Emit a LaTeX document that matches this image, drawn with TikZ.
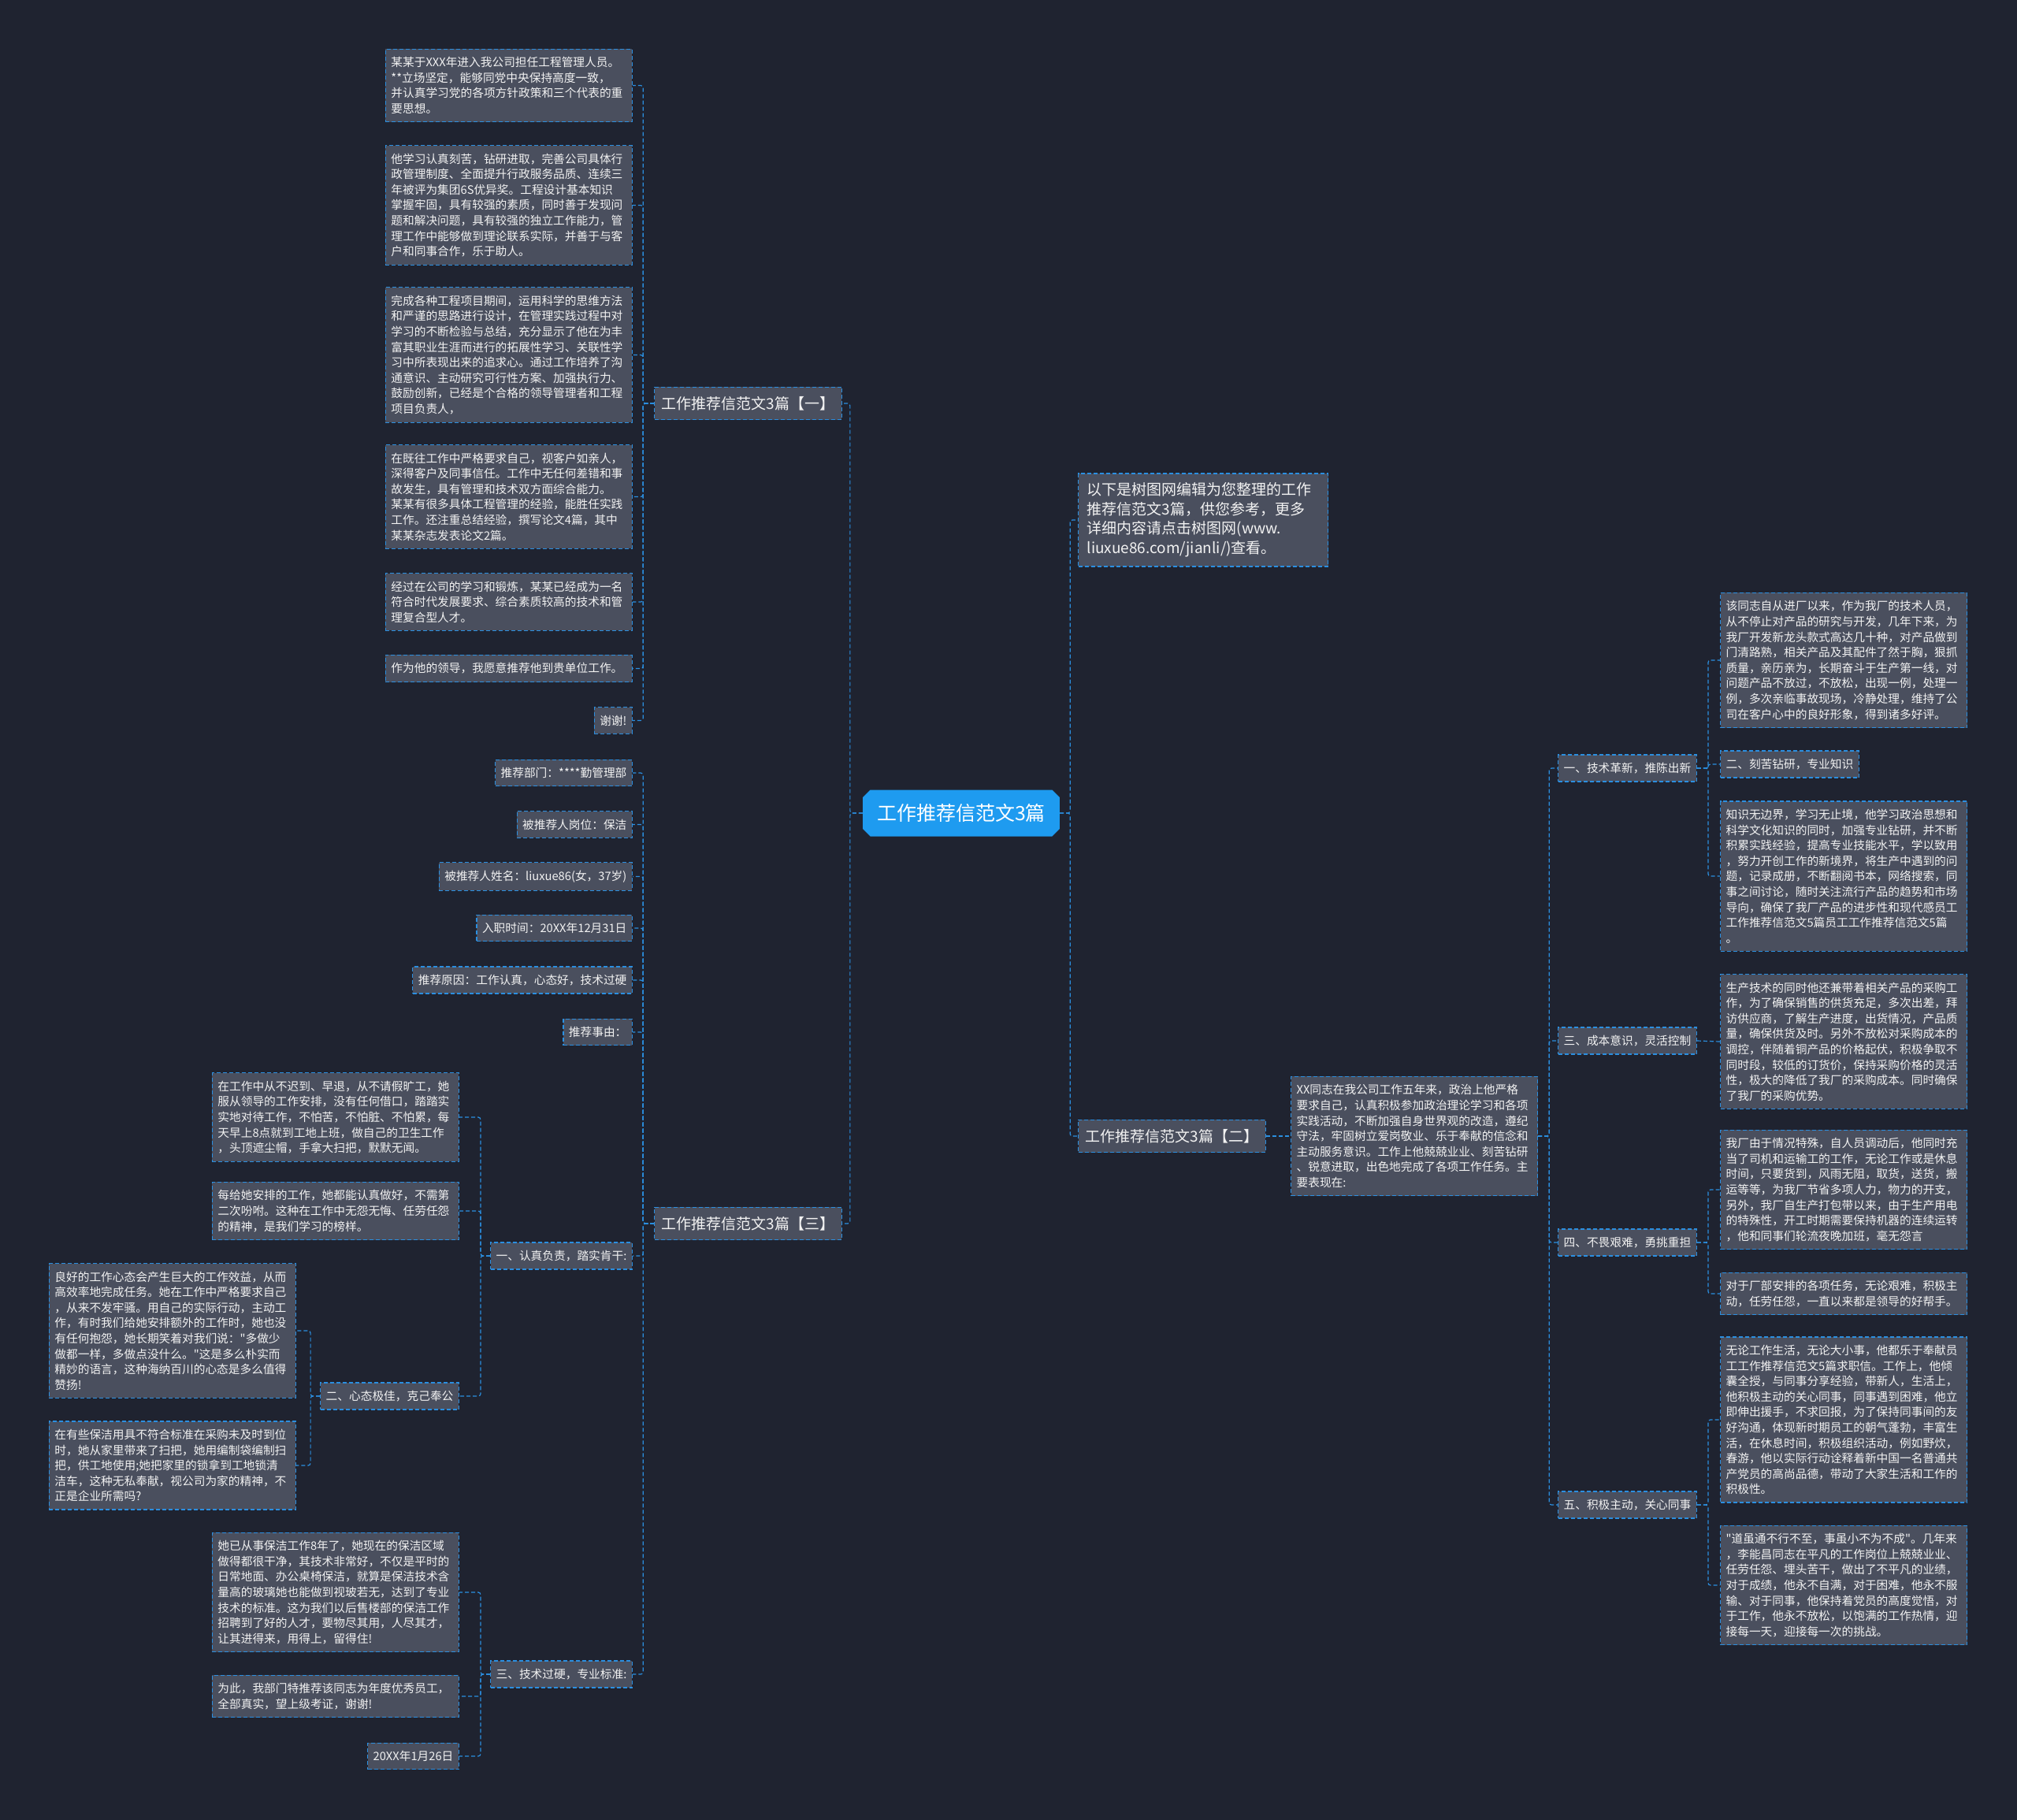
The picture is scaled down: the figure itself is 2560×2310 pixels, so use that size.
\documentclass[tikz,border=0pt]{standalone}
\usepackage{fontspec}
\setmainfont{Noto Sans CJK SC}[Ligatures=TeXOff]
\usetikzlibrary{shapes.misc}

\definecolor{bgnavy}{HTML}{1F2330}
\definecolor{boxgray}{HTML}{4A4F5E}
\definecolor{linkblue}{HTML}{2B8FE0}
\definecolor{hubblue}{HTML}{1E9BF0}
\definecolor{txtwhite}{HTML}{F2F2F2}
\newcommand\leaffont{\fontsize{14.7pt}{19.6pt}\selectfont}
\newcommand\topicfont{\fontsize{19pt}{24.5pt}\selectfont}
\newcommand\hubfont{\fontsize{25pt}{30pt}\selectfont}

\begin{document}
\begin{tikzpicture}[
  x=1pt, y=-1pt,
  box/.style={draw=linkblue, line width=1.2pt, dash pattern=on 5pt off 3pt,
              fill=boxgray, text=txtwhite, font=\leaffont, align=left,
              inner xsep=7pt, inner ysep=10pt},
  para/.style={box, text width=299pt},
  topic/.style={box, font=\topicfont, inner xsep=9pt, inner ysep=12pt},
  note/.style={topic, text width=295pt, inner xsep=11pt},
  hub/.style={chamfered rectangle, chamfered rectangle xsep=6pt, fill=hubblue,
              text=white, font=\hubfont, minimum height=59pt, inner xsep=12pt},
  link/.style={draw=linkblue, line width=1.2pt, dash pattern=on 5pt off 3pt,
               rounded corners=3pt},
  L/.style={anchor=east}, R/.style={anchor=west}
]
\fill[bgnavy] (0,0) rectangle (2560,2310);
\useasboundingbox (0,0) rectangle (2560,2310);

% centre and first level
\node[hub] (hub) at (1220,1032) {工作推荐信范文3篇};
\node[topic,L] (p1) at (1069,512) {工作推荐信范文3篇【一】};
\node[topic,L] (p3) at (1069,1553) {工作推荐信范文3篇【三】};
\node[note,R] (intro) at (1368,660) {以下是树图网编辑为您整理的工作\\推荐信范文3篇，供您参考，更多\\详细内容请点击树图网(www.\\liuxue86.com/jianli/)查看。};
\node[topic,R] (p2) at (1368,1442) {工作推荐信范文3篇【二】};

% part one
\node[para,L] (a1) at (803,108.5) {某某于XXX年进入我公司担任工程管理人员。\\***立场坚定，能够同党中央保持高度一致，\\并认真学习党的各项方针政策和三个代表的重\\要思想。};
\node[para,L] (a2) at (803,260.5) {他学习认真刻苦，钻研进取，完善公司具体行\\政管理制度、全面提升行政服务品质、连续三\\年被评为集团6S优异奖。工程设计基本知识\\掌握牢固，具有较强的素质，同时善于发现问\\题和解决问题，具有较强的独立工作能力，管\\理工作中能够做到理论联系实际，并善于与客\\户和同事合作，乐于助人。};
\node[para,L] (a3) at (803,450.5) {完成各种工程项目期间，运用科学的思维方法\\和严谨的思路进行设计，在管理实践过程中对\\学习的不断检验与总结，充分显示了他在为丰\\富其职业生涯而进行的拓展性学习、关联性学\\习中所表现出来的追求心。通过工作培养了沟\\通意识、主动研究可行性方案、加强执行力、\\鼓励创新，已经是个合格的领导管理者和工程\\项目负责人，};
\node[para,L] (a4) at (803,630.5) {在既往工作中严格要求自己，视客户如亲人，\\深得客户及同事信任。工作中无任何差错和事\\故发生，具有管理和技术双方面综合能力。\\某某有很多具体工程管理的经验，能胜任实践\\工作。还注重总结经验，撰写论文4篇，其中\\某某杂志发表论文2篇。};
\node[para,L] (a5) at (803,764) {经过在公司的学习和锻炼，某某已经成为一名\\符合时代发展要求、综合素质较高的技术和管\\理复合型人才。};
\node[para,L] (a6) at (803,848.5) {作为他的领导，我愿意推荐他到贵单位工作。};
\node[box,L] (a7) at (803,914.5) {谢谢!};

% part three
\node[box,L] (c1) at (803,981) {推荐部门：****勤管理部};
\node[box,L] (c2) at (803,1046.5) {被推荐人岗位：保洁};
\node[box,L] (c3) at (803,1112.5) {被推荐人姓名：liuxue86(女，37岁)};
\node[box,L] (c4) at (803,1178) {入职时间：20XX年12月31日};
\node[box,L] (c5) at (803,1244) {推荐原因：工作认真，心态好，技术过硬};
\node[box,L] (c6) at (803,1310) {推荐事由：};
\node[box,L] (c7) at (803,1594) {一、认真负责，踏实肯干:};
\node[box,L] (c8) at (803,2125) {三、技术过硬，专业标准:};
\node[para,L] (d1) at (583,1418) {在工作中从不迟到、早退，从不请假旷工，她\\服从领导的工作安排，没有任何借口，踏踏实\\实地对待工作，不怕苦，不怕脏、不怕累，每\\天早上8点就到工地上班，做自己的卫生工作\\，头顶遮尘帽，手拿大扫把，默默无闻。};
\node[para,L] (d2) at (583,1537) {每给她安排的工作，她都能认真做好，不需第\\二次吩咐。这种在工作中无怨无悔、任劳任怨\\的精神，是我们学习的榜样。};
\node[box,L] (d3) at (583,1772) {二、心态极佳，克己奉公};
\node[para,L] (e1) at (376,1689) {良好的工作心态会产生巨大的工作效益，从而\\高效率地完成任务。她在工作中严格要求自己\\，从来不发牢骚。用自己的实际行动，主动工\\作，有时我们给她安排额外的工作时，她也没\\有任何抱怨，她长期笑着对我们说："多做少\\做都一样，多做点没什么。"这是多么朴实而\\精妙的语言，这种海纳百川的心态是多么值得\\赞扬!};
\node[para,L] (e2) at (376,1860) {在有些保洁用具不符合标准在采购未及时到位\\时，她从家里带来了扫把，她用编制袋编制扫\\把，供工地使用;她把家里的锁拿到工地锁清\\洁车，这种无私奉献，视公司为家的精神，不\\正是企业所需吗?};
\node[para,L] (f1) at (583,2021) {她已从事保洁工作8年了，她现在的保洁区域\\做得都很干净，其技术非常好，不仅是平时的\\日常地面、办公桌椅保洁，就算是保洁技术含\\量高的玻璃她也能做到视玻若无，达到了专业\\技术的标准。这为我们以后售楼部的保洁工作\\招聘到了好的人才，要物尽其用，人尽其才，\\让其进得来，用得上，留得住!};
\node[para,L] (f2) at (583,2153) {为此，我部门特推荐该同志为年度优秀员工，\\全部真实，望上级考证，谢谢!};
\node[box,L] (f3) at (583,2229) {20XX年1月26日};

% part two
\node[para,R] (xx) at (1638,1442) {XX同志在我公司工作五年来，政治上他严格\\要求自己，认真积极参加政治理论学习和各项\\实践活动，不断加强自身世界观的改造，遵纪\\守法，牢固树立爱岗敬业、乐于奉献的信念和\\主动服务意识。工作上他兢兢业业、刻苦钻研\\、锐意进取，出色地完成了各项工作任务。主\\要表现在:};
\node[box,R] (g1) at (1977,975) {一、技术革新，推陈出新};
\node[box,R] (g2) at (1977,1321) {三、成本意识，灵活控制};
\node[box,R] (g3) at (1977,1577) {四、不畏艰难，勇挑重担};
\node[box,R] (g4) at (1977,1910) {五、积极主动，关心同事};
\node[para,R] (h1) at (2183,838) {该同志自从进厂以来，作为我厂的技术人员，\\从不停止对产品的研究与开发，几年下来，为\\我厂开发新龙头款式高达几十种，对产品做到\\门清路熟，相关产品及其配件了然于胸，狠抓\\质量，亲历亲为，长期奋斗于生产第一线，对\\问题产品不放过，不放松，出现一例，处理一\\例，多次亲临事故现场，冷静处理，维持了公\\司在客户心中的良好形象，得到诸多好评。};
\node[box,R] (h2) at (2183,970) {二、刻苦钻研，专业知识};
\node[para,R] (h3) at (2183,1112) {知识无边界，学习无止境，他学习政治思想和\\科学文化知识的同时，加强专业钻研，并不断\\积累实践经验，提高专业技能水平，学以致用\\，努力开创工作的新境界，将生产中遇到的问\\题，记录成册，不断翻阅书本，网络搜索，同\\事之间讨论，随时关注流行产品的趋势和市场\\导向，确保了我厂产品的进步性和现代感员工\\工作推荐信范文5篇员工工作推荐信范文5篇\\。};
\node[para,R] (h4) at (2183,1322) {生产技术的同时他还兼带着相关产品的采购工\\作，为了确保销售的供货充足，多次出差，拜\\访供应商，了解生产进度，出货情况，产品质\\量，确保供货及时。另外不放松对采购成本的\\调控，伴随着铜产品的价格起伏，积极争取不\\同时段，较低的订货价，保持采购价格的灵活\\性，极大的降低了我厂的采购成本。同时确保\\了我厂的采购优势。};
\node[para,R] (h5) at (2183,1510) {我厂由于情况特殊，自人员调动后，他同时充\\当了司机和运输工的工作，无论工作或是休息\\时间，只要货到，风雨无阻，取货，送货，搬\\运等等，为我厂节省多项人力，物力的开支，\\另外，我厂自生产打包带以来，由于生产用电\\的特殊性，开工时期需要保持机器的连续运转\\，他和同事们轮流夜晚加班，毫无怨言};
\node[para,R] (h6) at (2183,1642) {对于厂部安排的各项任务，无论艰难，积极主\\动，任劳任怨，一直以来都是领导的好帮手。};
\node[para,R] (h7) at (2183,1802) {无论工作生活，无论大小事，他都乐于奉献员\\工工作推荐信范文5篇求职信。工作上，他倾\\囊全授，与同事分享经验，带新人，生活上，\\他积极主动的关心同事，同事遇到困难，他立\\即伸出援手，不求回报，为了保持同事间的友\\好沟通，体现新时期员工的朝气蓬勃，丰富生\\活，在休息时间，积极组织活动，例如野炊，\\春游，他以实际行动诠释着新中国一名普通共\\产党员的高尚品德，带动了大家生活和工作的\\积极性。};
\node[para,R] (h8) at (2183,2012) {"道虽通不行不至，事虽小不为不成"。几年来\\，李能昌同志在平凡的工作岗位上兢兢业业、\\任劳任怨、埋头苦干，做出了不平凡的业绩，\\对于成绩，他永不自满，对于困难，他永不服\\输、对于同事，他保持着党员的高度觉悟，对\\于工作，他永不放松，以饱满的工作热情，迎\\接每一天，迎接每一次的挑战。};

% connectors
\foreach \c in {p1,p3} \draw[link] (hub.west) -- ++(-16,0) |- (\c.east);
\foreach \c in {intro,p2} \draw[link] (hub.east) -- ++(13,0) |- (\c.west);
\foreach \c in {a1,a2,a3,a4,a5,a6,a7} \draw[link] (p1.west) -- ++(-14,0) |- (\c.east);
\foreach \c in {c1,c2,c3,c4,c5,c6,c7,c8} \draw[link] (p3.west) -- ++(-14,0) |- (\c.east);
\foreach \c in {d1,d2,d3} \draw[link] (c7.west) -- ++(-12,0) |- (\c.east);
\foreach \c in {e1,e2} \draw[link] (d3.west) -- ++(-12,0) |- (\c.east);
\foreach \c in {f1,f2,f3} \draw[link] (c8.west) -- ++(-12,0) |- (\c.east);
\draw[link] (p2.east) -- (xx.west);
\foreach \c in {g1,g2,g3,g4} \draw[link] (xx.east) -- ++(14,0) |- (\c.west);
\foreach \c in {h1,h2,h3} \draw[link] (g1.east) -- ++(14,0) |- (\c.west);
\draw[link] (g2.east) -- (h4.west);
\foreach \c in {h5,h6} \draw[link] (g3.east) -- ++(14,0) |- (\c.west);
\foreach \c in {h7,h8} \draw[link] (g4.east) -- ++(14,0) |- (\c.west);
\end{tikzpicture}
\end{document}
